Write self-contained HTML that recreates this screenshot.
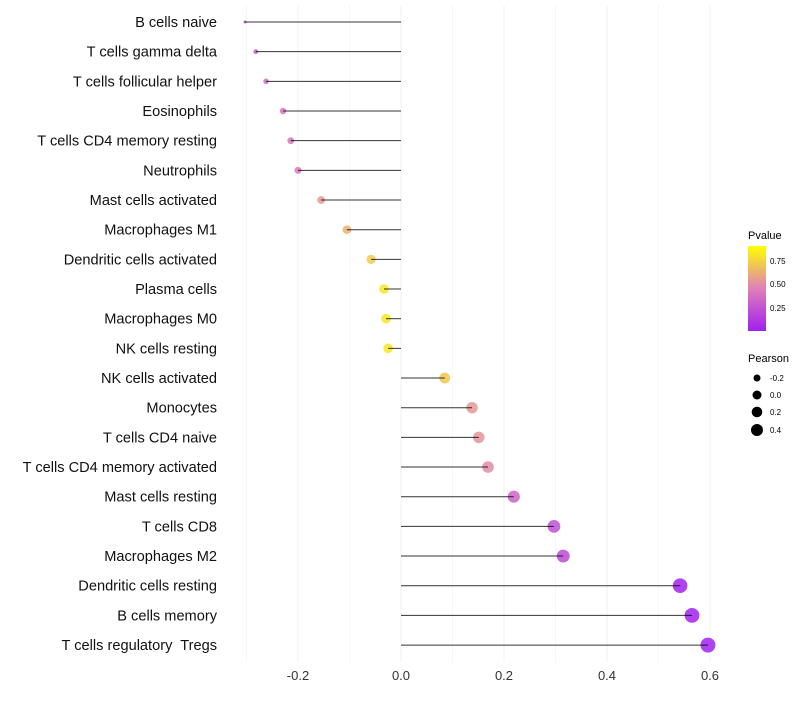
<!DOCTYPE html>
<html><head><meta charset="utf-8"><style>
body{margin:0;background:#fff;font-family:"Liberation Sans",sans-serif}
</style></head><body>
<svg id="c" width="800" height="700" xmlns="http://www.w3.org/2000/svg">
<defs><linearGradient id="g" x1="0" y1="1" x2="0" y2="0">
<stop offset="0" stop-color="#a020f0"/><stop offset="0.5" stop-color="#df80b8"/><stop offset="1" stop-color="#ffff00"/></linearGradient></defs>
<g id="grid"></g><g id="marks"></g><g id="labels"></g>
<g font-size="10">
<text x="748" y="239" font-size="11">Pvalue</text>
<rect x="748" y="246" width="18" height="85" fill="url(#g)"/>
<text x="770" y="264" font-size="8">0.75</text>
<text x="770" y="287" font-size="8">0.50</text>
<text x="770" y="311" font-size="8">0.25</text>
</g>
<g>
<text x="748" y="362" font-size="11">Pearson</text>
<circle cx="757" cy="378" r="3.5"/><text x="770" y="381" font-size="8">-0.2</text>
<circle cx="757" cy="395" r="4.5"/><text x="770" y="398" font-size="8">0.0</text>
<circle cx="757" cy="412" r="5.3"/><text x="770" y="415" font-size="8">0.2</text>
<circle cx="757" cy="430" r="6"/><text x="770" y="433" font-size="8">0.4</text>
</g>
</svg>
<script>
const categories=["B cells naive","T cells gamma delta","T cells follicular helper","Eosinophils","T cells CD4 memory resting","Neutrophils","Mast cells activated","Macrophages M1","Dendritic cells activated","Plasma cells","Macrophages M0","NK cells resting","NK cells activated","Monocytes","T cells CD4 naive","T cells CD4 memory activated","Mast cells resting","T cells CD8","Macrophages M2","Dendritic cells resting","B cells memory","T cells regulatory  Tregs"];
const pearson=[-0.303,-0.282,-0.262,-0.229,-0.214,-0.2,-0.155,-0.105,-0.058,-0.033,-0.029,-0.025,0.085,0.138,0.151,0.169,0.219,0.297,0.315,0.542,0.565,0.596];
const pvalues=[0.25,0.33,0.4,0.44,0.45,0.46,0.6,0.7,0.8,0.9,0.9,0.9,0.78,0.6,0.58,0.55,0.35,0.25,0.22,0.01,0.01,0.01];
const xTicks=[-0.2,0,0.2,0.4,0.6];
const xTickLabels=["-0.2","0.0","0.2","0.4","0.6"];
const NS="http://www.w3.org/2000/svg";
const x=v=>401+v*515, y=i=>22+i*29.67;
const r=v=>1.5+6*Math.sqrt(Math.max(v+0.303,0)/0.9);
function lerp(a,b,t){return a.map((c,i)=>Math.round(c+(b[i]-c)*t));}
function col(p){const lo=[160,32,240],mid=[223,128,184],hi=[255,255,0];
 const c=p<0.5?lerp(lo,mid,p/0.5):lerp(mid,hi,(p-0.5)/0.5);return `rgb(${c})`;}
function mk(t,a,par){const e=document.createElementNS(NS,t);for(const k in a)e.setAttribute(k,a[k]);document.getElementById(par).appendChild(e);return e;}
for(let v=-0.3;v<=0.61;v+=0.1){const g=mk('line',{x1:x(v),x2:x(v),y1:5,y2:662,stroke:'#f2f2f2','stroke-width':Math.abs(Math.round(v*10))%2==0?1:0.6},'grid');

}
xTicks.forEach((v,i)=>{const t=mk('text',{x:x(v),y:680,'text-anchor':'middle','font-size':13,fill:'#333'},'labels');t.textContent=xTickLabels[i];

});
categories.forEach((c,i)=>{
 const t=mk('text',{x:217,y:y(i)+5,'text-anchor':'end','font-size':14.6,fill:'#111',style:'white-space:pre'},'labels');t.textContent=c;
 
 
 const p=mk('circle',{cx:x(pearson[i]),cy:y(i),r:r(pearson[i]),fill:col(pvalues[i]),'fill-opacity':0.85},'marks');
 
 
 const l=mk('line',{x1:x(0),x2:x(pearson[i]),y1:y(i),y2:y(i),stroke:'#000','stroke-width':1,'stroke-opacity':0.8},'marks');
 
 
});
</script>
</body></html>
